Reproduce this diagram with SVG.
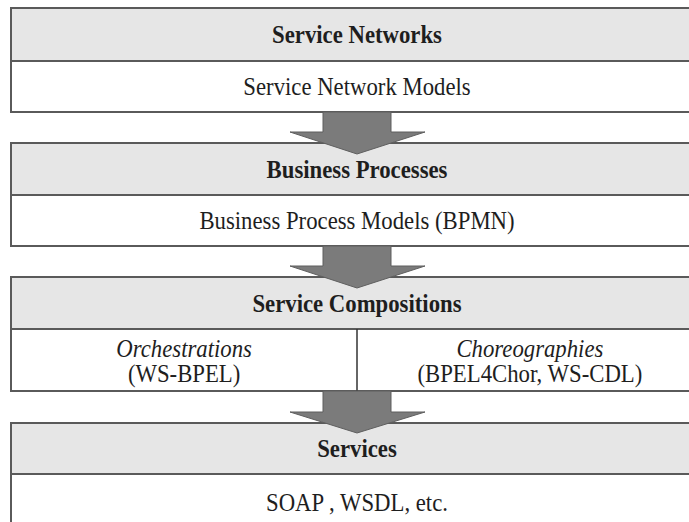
<svg xmlns="http://www.w3.org/2000/svg" width="689" height="522" viewBox="0 0 689 522">
<style>
.hdr{fill:#e6e6e6;stroke:#5a5a5a;stroke-width:2}
.cnt{fill:#ffffff;stroke:#5a5a5a;stroke-width:2}
.arr{fill:#7b7b7b;stroke:#5f5f5f;stroke-width:1}
.div{stroke:#333;stroke-width:1.5}
text{font-family:"Liberation Serif","Times New Roman",serif;font-size:25px;fill:#1e1e1e;text-anchor:middle}
.b{font-weight:bold}
.i{font-style:italic}
</style>
<rect width="689" height="522" fill="#ffffff"/>
<g id="service-networks">
<rect class="hdr" x="11" y="8" width="692" height="53"/>
<rect class="cnt" x="11" y="61" width="692" height="51"/>
</g>
<g id="business-processes">
<rect class="hdr" x="11" y="143" width="692" height="52"/>
<rect class="cnt" x="11" y="195" width="692" height="51"/>
</g>
<g id="service-compositions">
<rect class="hdr" x="11" y="277" width="692" height="52"/>
<rect class="cnt" x="11" y="329" width="692" height="62"/>
<line class="div" x1="357" y1="329" x2="357" y2="391"/>
</g>
<g id="services">
<rect class="hdr" x="11" y="423" width="692" height="51"/>
<rect class="cnt" x="11" y="474" width="692" height="60"/>
</g>
<g id="connectors">
<polygon class="arr" points="323,112 391,112 391,132 425,132 357,154 290,132 323,132"/>
<polygon class="arr" points="323,246 391,246 391,266 425,266 357,288 290,266 323,266"/>
<polygon class="arr" points="323,391 391,391 391,412 425,412 357,433 290,412 323,412"/>
</g>
<g id="labels" transform="translate(357,0) scale(0.91,1)">
<text class="b" x="0" y="43">Service Networks</text>
<text x="0" y="95">Service Network Models</text>
<text class="b" x="0" y="178">Business Processes</text>
<text x="0" y="229">Business Process Models (BPMN)</text>
<text class="b" x="0" y="312">Service Compositions</text>
<text class="i" x="-190" y="357">Orchestrations</text>
<text x="-190" y="382">(WS-BPEL)</text>
<text class="i" x="190" y="357">Choreographies</text>
<text x="190" y="382">(BPEL4Chor, WS-CDL)</text>
<text class="b" x="0" y="457">Services</text>
<text x="0" y="511">SOAP , WSDL, etc.</text>
</g>
</svg>
